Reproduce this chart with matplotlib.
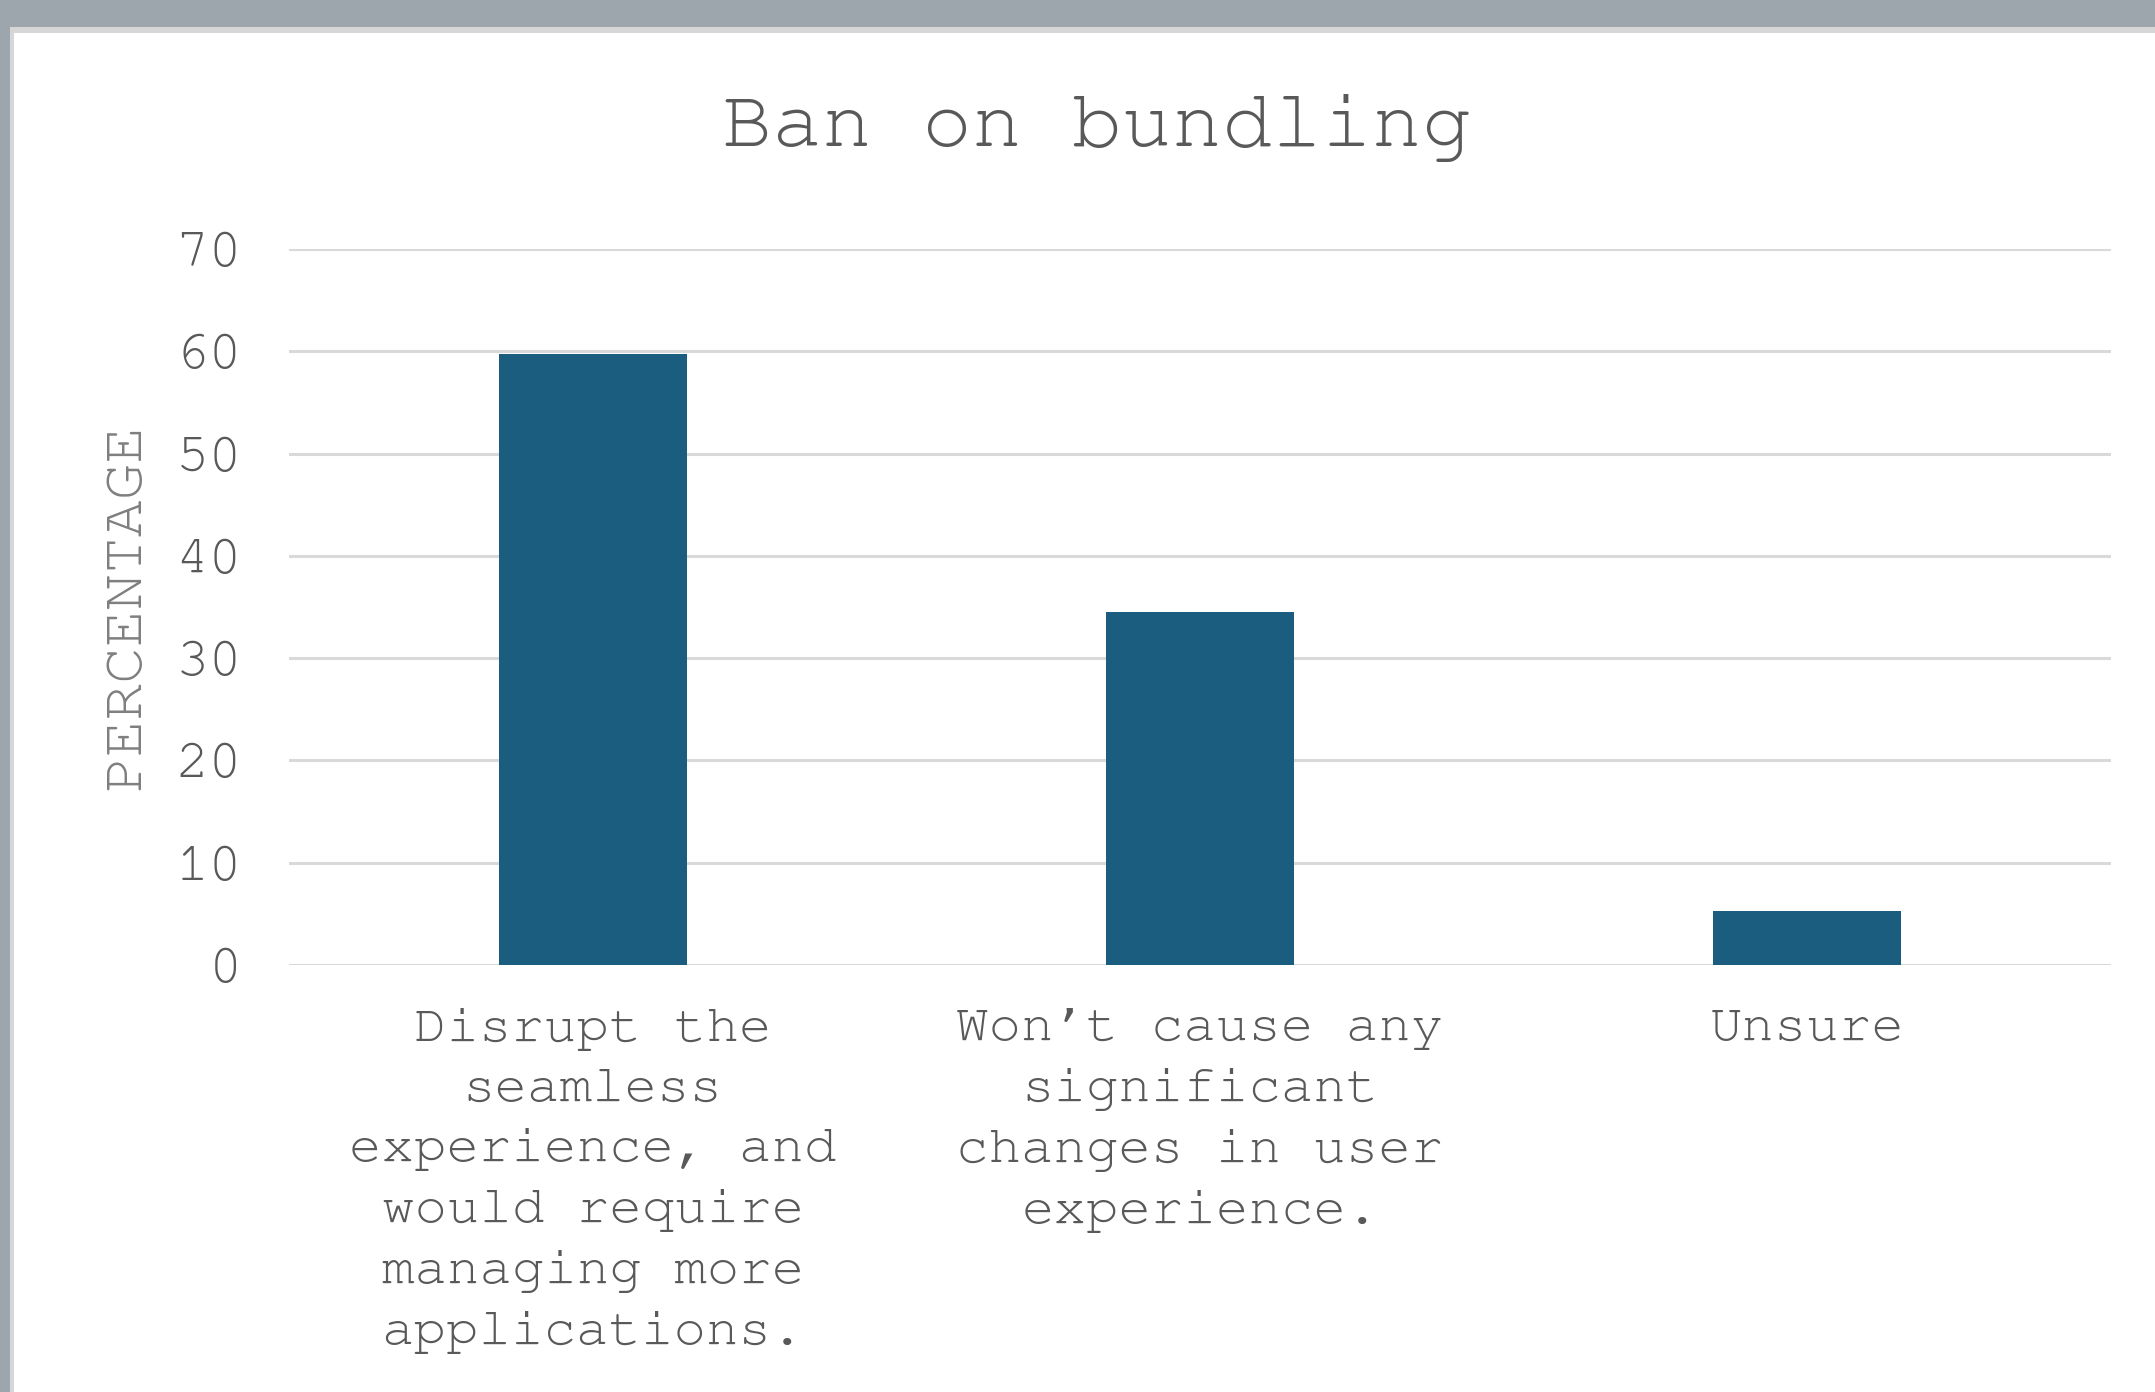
import matplotlib
matplotlib.use("Agg")
import matplotlib.pyplot as plt
from matplotlib import font_manager
from matplotlib.patches import Rectangle

# Survey responses on a ban on bundling
categories = [
    "Disrupt the\nseamless\nexperience, and\nwould require\nmanaging more\napplications.",
    "Won\u2019t cause any\nsignificant\nchanges in user\nexperience.",
    "Unsure",
]
percentages = [59.7, 34.5, 5.3]
y_ticks = [0, 10, 20, 30, 40, 50, 60, 70]


def pick_mono():
    # prefer a Courier-style serif monospace face when one is installed
    names = {f.name for f in font_manager.fontManager.ttflist}
    for cand in ["Courier New", "Courier", "Nimbus Mono PS", "Nimbus Mono L",
                 "FreeMono", "Courier Prime", "Liberation Mono"]:
        if cand in names:
            return cand
    return "DejaVu Sans Mono"


FONT = pick_mono()
TEXT = "#595959"
BAR = "#1a5d7e"
GRID = "#d9d9d9"

W, H, DPI = 2155, 1392, 100
fig = plt.figure(figsize=(W / DPI, H / DPI), dpi=DPI, facecolor="white")

# backdrop strips along the top and left edges, with a thin light border
fig.add_artist(Rectangle((0, 1 - 27 / H), 1, 27 / H, transform=fig.transFigure,
                         facecolor="#9da5ad", edgecolor="none", zorder=0))
fig.add_artist(Rectangle((0, 0), 10 / W, 1, transform=fig.transFigure,
                         facecolor="#9da5ad", edgecolor="none", zorder=0))
fig.add_artist(Rectangle((10 / W, 1 - 33 / H), 1, 6 / H, transform=fig.transFigure,
                         facecolor="#d6d6d6", edgecolor="none", zorder=0))
fig.add_artist(Rectangle((10 / W, 0), 4 / W, 1 - 27 / H, transform=fig.transFigure,
                         facecolor="#d6d6d6", edgecolor="none", zorder=0))

left, right, bottom, top = 289 / W, 2111 / W, 1 - 965 / H, 1 - 249 / H
ax = fig.add_axes([left, bottom, right - left, top - bottom])
ax.set_facecolor("none")

x = list(range(len(categories)))
ax.bar(x, percentages, width=0.31, color=BAR, zorder=3)

ax.set_xlim(-0.5, len(categories) - 0.5)
ax.set_ylim(0, 70)
ax.set_yticks(y_ticks)
ax.set_yticklabels([str(t) for t in y_ticks], fontsize=40, family=FONT, color=TEXT)
ax.set_xticks(x)
ax.set_xticklabels(categories, fontsize=39, family=FONT, color=TEXT)
for lab in ax.get_xticklabels():
    lab.set_linespacing(1.545)
    lab.set_multialignment("center")

ax.tick_params(axis="both", length=0)
ax.tick_params(axis="y", pad=34)
ax.tick_params(axis="x", pad=31)
ax.yaxis.grid(True, color=GRID, linewidth=2.2, zorder=0)
ax.set_axisbelow(True)
for s in ax.spines.values():
    s.set_visible(False)

ax.set_ylabel("PERCENTAGE", fontsize=44, family=FONT, color="#7f7f7f")
ax.yaxis.set_label_coords(-(289 - 150) / (2111 - 289), 0.5)

fig.text(1097 / W, 1 - 128 / H, "Ban on bundling", fontsize=60, family=FONT,
         color=TEXT, ha="center", va="center")

fig.savefig("out.png", dpi=DPI, facecolor="white")
